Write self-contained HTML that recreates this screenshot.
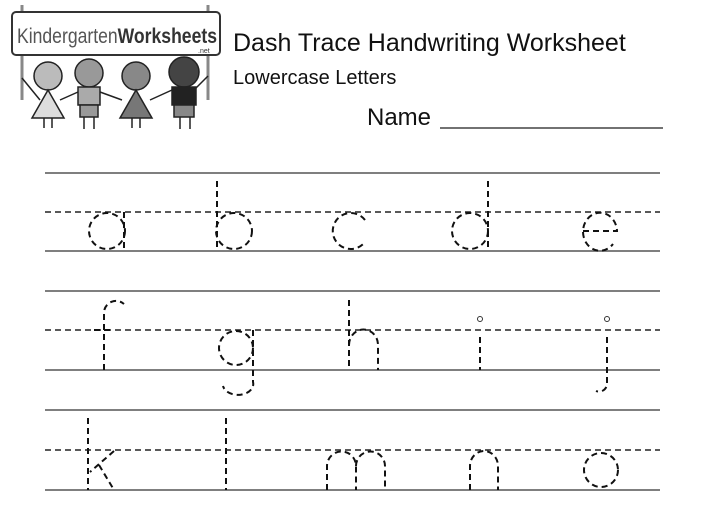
<!DOCTYPE html>
<html><head><meta charset="utf-8"><style>
html,body{margin:0;padding:0;background:#fff;width:701px;height:511px;overflow:hidden}
</style></head><body>
<svg width="701" height="511" viewBox="0 0 701 511" xmlns="http://www.w3.org/2000/svg">
<!-- logo -->
<line x1="22" y1="5" x2="22" y2="100" stroke="#888" stroke-width="3"/>
<line x1="208" y1="5" x2="208" y2="100" stroke="#888" stroke-width="3"/>
<rect x="12" y="12" width="208" height="43" rx="4" fill="#fff" stroke="#333" stroke-width="2"/>
<text x="17" y="43" font-family="Liberation Sans Narrow, Liberation Sans, sans-serif" font-size="21" fill="#555" textLength="200" lengthAdjust="spacingAndGlyphs">Kindergarten<tspan font-weight="bold" fill="#333">Worksheets</tspan></text>
<text x="198" y="53" font-family="Liberation Sans, sans-serif" font-size="7" fill="#333">.net</text>
<!-- kids -->
<g stroke="#222" stroke-width="1.5">
<circle cx="48" cy="76" r="14" fill="#bbb"/>
<path d="M32 118 L48 90 L64 118Z" fill="#ddd"/>
<circle cx="89" cy="73" r="14" fill="#999"/>
<rect x="78" y="87" width="22" height="18" fill="#aaa"/>
<rect x="80" y="105" width="18" height="12" fill="#999"/>
<circle cx="136" cy="76" r="14" fill="#888"/>
<path d="M120 118 L136 90 L152 118Z" fill="#777"/>
<circle cx="184" cy="72" r="15" fill="#444"/>
<rect x="172" y="87" width="24" height="18" fill="#222"/>
<rect x="174" y="105" width="20" height="12" fill="#888"/>
<path d="M22 78 L40 100 M60 100 L78 92 M100 92 L122 100 M150 100 L172 90 M196 88 L208 76" fill="none"/>
<path d="M44 118v10 M52 118v10 M84 117v12 M94 117v12 M132 118v10 M140 118v10 M180 117v12 M190 117v12" fill="none"/>
</g>
<!-- titles -->
<text x="233" y="51" font-family="Liberation Sans, sans-serif" font-size="25" fill="#111">Dash Trace Handwriting Worksheet</text>
<text x="233" y="84" font-family="Liberation Sans, sans-serif" font-size="20" fill="#111">Lowercase Letters</text>
<text x="367" y="125" font-family="Liberation Sans, sans-serif" font-size="24" fill="#111">Name</text>
<line x1="440" y1="128" x2="663" y2="128" stroke="#444" stroke-width="1.6"/>
<!-- ruled lines -->
<g stroke="#555" stroke-width="1.6">
<line x1="45" y1="173" x2="660" y2="173"/><line x1="45" y1="251" x2="660" y2="251"/>
<line x1="45" y1="291" x2="660" y2="291"/><line x1="45" y1="370" x2="660" y2="370"/>
<line x1="45" y1="410" x2="660" y2="410"/><line x1="45" y1="490" x2="660" y2="490"/>
</g>
<g stroke="#222" stroke-width="1.4" stroke-dasharray="6 4">
<line x1="45" y1="212" x2="660" y2="212"/>
<line x1="45" y1="330" x2="660" y2="330"/>
<line x1="45" y1="450" x2="660" y2="450"/>
</g>
<!-- letters -->
<g fill="none" stroke="#111" stroke-width="2" stroke-dasharray="6 4">
<!-- row1 -->
<circle cx="107" cy="231" r="18"/><line x1="124" y1="212" x2="124" y2="251"/>
<line x1="217" y1="181" x2="217" y2="251"/><circle cx="234" cy="231" r="18"/>
<path d="M365 220 A18 18 0 1 0 365 242"/>
<circle cx="470" cy="231" r="18"/><line x1="488" y1="181" x2="488" y2="251"/>
<path d="M583 231 H617 A17 19 0 1 0 613 244"/>
<!-- row2 -->
<path d="M104 370 V312 A12 12 0 0 1 124 304"/><line x1="94" y1="330" x2="114" y2="330"/>
<circle cx="236" cy="348" r="17"/><path d="M253 330 V382 A14 10 0 0 1 223 386"/>
<line x1="349" y1="300" x2="349" y2="370"/><path d="M349 345 A14 15 0 0 1 378 345 V370"/>
<line x1="480" y1="337" x2="480" y2="370"/>
<path d="M607 337 V383 A8 8 0 0 1 596 391"/>
<!-- row3 -->
<line x1="88" y1="418" x2="88" y2="490"/><path d="M114 451 L90 472 M99 465 L114 490"/>
<line x1="226" y1="418" x2="226" y2="490"/>
<path d="M327 490 V466 A14 14 0 0 1 356 466 V490 M356 466 A14 14 0 0 1 385 466 V490"/>
<path d="M470 490 V466 A14 15 0 0 1 498 466 V490"/>
<circle cx="601" cy="470" r="17"/>
</g>
<g fill="#fff" stroke="#333" stroke-width="1">
<circle cx="480" cy="319" r="2.5"/><circle cx="607" cy="319" r="2.5"/>
</g>
</svg>
</body></html>
